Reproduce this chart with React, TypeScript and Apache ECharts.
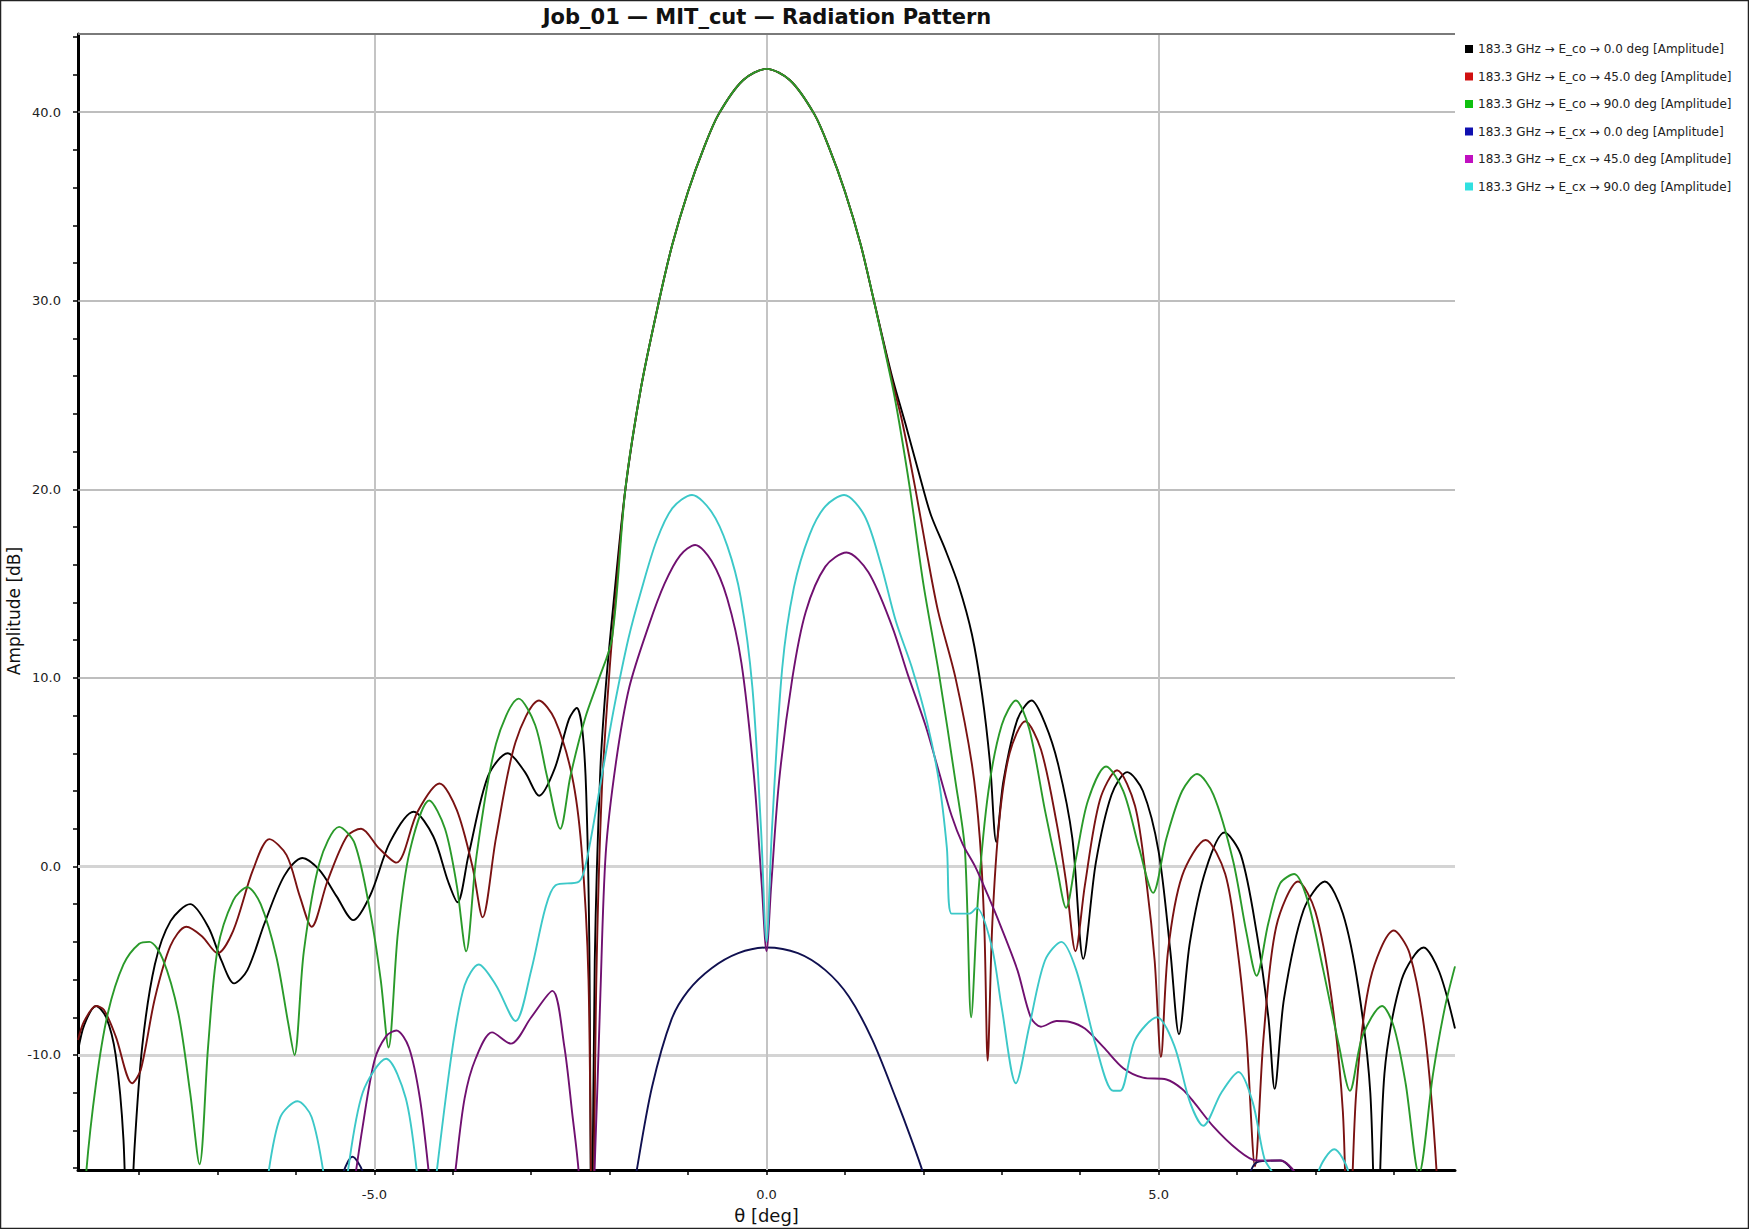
import React, { useEffect, useRef } from "react";
import * as echarts from "echarts";

// ---- axis ticks / labels ----
const xTickValues = [-8, -7, -6, -5, -4, -3, -2, -1, 0, 1, 2, 3, 4, 5, 6, 7, 8];
const xLabelValues = [-5, 0, 5];
const yTickValues = [-16, -14, -12, -10, -8, -6, -4, -2, 0, 2, 4, 6, 8, 10, 12, 14, 16, 18, 20, 22, 24, 26, 28, 30, 32, 34, 36, 38, 40, 42, 44];
const yLabelValues = [-10, 0, 10, 20, 30, 40];
const xGridValues = [-5, 0, 5];
const yGridDark = [10, 20, 30, 40];
const yGridLight = [-10, 0];

const seriesNames = [
  "183.3 GHz → E_co → 0.0 deg [Amplitude]",
  "183.3 GHz → E_co → 45.0 deg [Amplitude]",
  "183.3 GHz → E_co → 90.0 deg [Amplitude]",
  "183.3 GHz → E_cx → 0.0 deg [Amplitude]",
  "183.3 GHz → E_cx → 45.0 deg [Amplitude]",
  "183.3 GHz → E_cx → 90.0 deg [Amplitude]",
];

// ---- data: [theta deg, amplitude dB] ----
const mainLobe = [
  [-1.6, 25.4], [-1.37, 30], [-1.2, 33.0], [-1.0, 35.8], [-0.8, 38.1], [-0.61, 39.9], [-0.3, 41.7],
  [0, 42.3], [0.3, 41.7], [0.61, 39.9], [0.8, 38.1], [1.0, 35.8], [1.2, 33.0], [1.37, 30],
];

const coPol0Left = [
  [-8.78, -9.8], [-8.7, -8.4], [-8.55, -7.4], [-8.42, -8.0], [-8.3, -10.0], [-8.2, -14.5], [-8.14, -22],
  [-8.06, -15], [-7.96, -9.5], [-7.8, -5.2], [-7.6, -2.9], [-7.35, -2.0], [-7.12, -3.2], [-6.95, -5.0],
  [-6.79, -6.2], [-6.62, -5.5], [-6.4, -3.0], [-6.15, -0.5], [-5.92, 0.45], [-5.7, -0.2], [-5.48, -1.6],
  [-5.27, -2.85], [-5.05, -1.5], [-4.8, 1.3], [-4.5, 2.9], [-4.25, 1.6], [-4.06, -0.8], [-3.94, -1.9],
  [-3.8, 0.6], [-3.55, 4.8], [-3.3, 6.0], [-3.08, 5.0], [-2.9, 3.75], [-2.7, 5.2], [-2.52, 7.8],
  [-2.42, 8.4], [-2.35, 7.3], [-2.3, 4.0], [-2.26, -4], [-2.23, -22], [-2.19, -5], [-2.12, 5],
  [-2.05, 9.5], [-1.95, 14], [-1.8, 20],
];
const coPol0Right = [
  [1.6, 26.0], [1.77, 23.5], [2.0, 20], [2.1, 18.6], [2.28, 16.8], [2.45, 14.9], [2.62, 12.3],
  [2.75, 9.1], [2.85, 5.5], [2.93, 1.3], [3.02, 4.5], [3.2, 7.8], [3.38, 8.8], [3.55, 7.6], [3.72, 5.4],
  [3.9, 1.5], [4.04, -4.9], [4.2, 0.2], [4.4, 3.8], [4.6, 5.0], [4.8, 4.0], [5.0, 0.8], [5.15, -4.5],
  [5.26, -8.9], [5.4, -4], [5.6, -0.2], [5.84, 1.8], [6.05, 0.6], [6.25, -3.5], [6.4, -8.0],
  [6.48, -11.8], [6.6, -7], [6.85, -2.3], [7.12, -0.8], [7.35, -2.5], [7.55, -6.5], [7.7, -12],
  [7.78, -22], [7.88, -11], [8.1, -6], [8.38, -4.3], [8.58, -5.6], [8.78, -8.6],
];

const coPol45Left = [
  [-8.78, -9.2], [-8.7, -8.2], [-8.55, -7.4], [-8.45, -7.6], [-8.3, -9.0], [-8.09, -11.5], [-7.98, -10.8],
  [-7.8, -7.0], [-7.6, -4.2], [-7.4, -3.2], [-7.2, -3.7], [-7.0, -4.6], [-6.8, -3.4], [-6.55, -0.2],
  [-6.34, 1.45], [-6.12, 0.6], [-5.95, -1.6], [-5.8, -3.2], [-5.6, -0.8], [-5.35, 1.6], [-5.17, 2.0],
  [-4.95, 1.0], [-4.72, 0.2], [-4.45, 2.9], [-4.17, 4.4], [-3.95, 3.0], [-3.75, 0.0], [-3.62, -2.7],
  [-3.45, 1.5], [-3.2, 6.6], [-2.9, 8.8], [-2.7, 7.8], [-2.48, 4.8], [-2.36, 1.0], [-2.27, -6],
  [-2.22, -22], [-2.17, -6], [-2.1, 4], [-2.0, 10.5], [-1.93, 14], [-1.8, 20],
];
const coPol45Right = [
  [1.6, 25.8], [1.73, 23.6], [1.9, 20], [2.05, 16.5], [2.19, 13.5], [2.41, 10], [2.62, 5.4],
  [2.72, 1.5], [2.78, -3.5], [2.82, -10.3], [2.88, -3], [2.97, 2.5], [3.1, 6.0], [3.3, 7.7],
  [3.5, 6.2], [3.7, 2.3], [3.82, -0.8], [3.94, -4.5], [4.06, -1.0], [4.25, 3.5], [4.47, 5.1],
  [4.7, 3.2], [4.85, -1.0], [4.95, -5], [5.03, -10.1], [5.12, -4.5], [5.3, -0.5], [5.6, 1.4],
  [5.85, -0.4], [6.0, -4.2], [6.12, -9], [6.23, -15.9], [6.34, -9], [6.5, -3.2], [6.78, -0.8],
  [7.0, -2.4], [7.2, -6.8], [7.35, -13], [7.42, -22], [7.52, -12], [7.7, -6.0], [8.0, -3.4],
  [8.2, -4.6], [8.4, -9], [8.55, -16.5], [8.62, -24],
];

const coPol90Left = [
  [-8.78, -24], [-8.68, -16.5], [-8.55, -11.5], [-8.4, -7.8], [-8.2, -5.2], [-8.0, -4.1], [-7.87, -4.0],
  [-7.7, -4.9], [-7.5, -7.8], [-7.35, -12.0], [-7.23, -15.8], [-7.12, -9.5], [-7.0, -4.4], [-6.8, -1.8],
  [-6.62, -1.1], [-6.45, -2.0], [-6.25, -4.8], [-6.1, -8.3], [-6.02, -10.0], [-5.9, -4.5], [-5.7, 0.2],
  [-5.45, 2.1], [-5.25, 1.2], [-5.05, -2.5], [-4.92, -6.0], [-4.82, -9.6], [-4.7, -3.5], [-4.55, 0.8],
  [-4.3, 3.5], [-4.1, 2.0], [-3.95, -1.0], [-3.83, -4.5], [-3.7, 0.5], [-3.45, 6.5], [-3.16, 8.9],
  [-2.95, 7.5], [-2.8, 4.8], [-2.63, 2.0], [-2.5, 4.8], [-2.31, 7.9], [-2.15, 9.8], [-1.97, 12.1],
  [-1.8, 20],
];
const coPol90Right = [
  [1.6, 25.6], [1.69, 23.6], [1.83, 20], [2.0, 15.0], [2.2, 10.2], [2.41, 4.5], [2.53, 0.9],
  [2.61, -8.0], [2.7, -1.5], [2.83, 4.0], [3.0, 7.5], [3.18, 8.8], [3.35, 7.3], [3.55, 3.0],
  [3.7, 0.0], [3.82, -2.2], [3.95, 0.5], [4.1, 3.5], [4.33, 5.3], [4.55, 4.0], [4.75, 1.0],
  [4.93, -1.4], [5.1, 1.5], [5.3, 4.0], [5.49, 4.9], [5.7, 3.8], [5.95, 0.3], [6.12, -3.5],
  [6.25, -5.8], [6.4, -3.0], [6.55, -0.9], [6.73, -0.4], [6.9, -1.8], [7.1, -5.5], [7.3, -9.5],
  [7.44, -11.9], [7.6, -9.0], [7.85, -7.4], [8.0, -8.5], [8.15, -11.5], [8.32, -16.3], [8.5, -11],
  [8.65, -7.5], [8.78, -5.3],
];

const crossPol0 = [
  [-5.5, -19], [-5.4, -16.3], [-5.28, -15.4], [-5.15, -16.2], [-5.05, -19], [-3.5, "-"],
  [-1.8, -20], [-1.65, -16], [-1.46, -11.7], [-1.21, -8.1], [-1.0, -6.6], [-0.7, -5.4], [-0.36, -4.6],
  [0, -4.3], [0.4, -4.6], [0.75, -5.5], [1.05, -6.9], [1.35, -9.2], [1.65, -12.3], [1.85, -14.5],
  [2.0, -16.3], [2.1, -18], [4, "-"],
  [6.05, -18], [6.25, -15.7], [6.55, -15.6], [6.75, -16.4], [6.85, -18],
];

const crossPol45 = [
  [-5.28, -17.5], [-5.15, -13.8], [-5.0, -10.3], [-4.85, -9.0], [-4.72, -8.7], [-4.56, -9.6],
  [-4.42, -12.3], [-4.3, -16.5], [-4.22, -20], [-4.15, "-"],
  [-4.06, -20], [-3.96, -15.9], [-3.85, -12.3], [-3.71, -10.2], [-3.5, -8.8], [-3.26, -9.4],
  [-3.0, -8.0], [-2.73, -6.6], [-2.58, -9.5], [-2.48, -13], [-2.39, -16.5], [-2.3, -26], [-2.2, -17],
  [-2.12, -7], [-2.05, 0.7], [-1.92, 5.5], [-1.75, 9.5], [-1.5, 12.8], [-1.3, 15.0], [-1.1, 16.5],
  [-0.91, 17.05], [-0.7, 16.2], [-0.5, 14.2], [-0.32, 10.8], [-0.16, 4.8], [-0.06, -1.0], [0, -4.5],
  [0.06, -1.0], [0.16, 4.5], [0.33, 10], [0.5, 13.5], [0.75, 15.9], [1.02, 16.65], [1.3, 15.6],
  [1.6, 12.75], [1.8, 10.2], [2.03, 7.45], [2.2, 5.0], [2.36, 2.7], [2.5, 1.2], [2.66, 0.0],
  [2.82, -1.5], [2.98, -3.1], [3.2, -5.5], [3.37, -8.0], [3.5, -8.5], [3.7, -8.2], [3.87, -8.25],
  [4.06, -8.6], [4.3, -9.6], [4.55, -10.7], [4.8, -11.2], [5.1, -11.3], [5.3, -11.8], [5.45, -12.5],
  [5.7, -13.8], [6.0, -15.0], [6.25, -15.6], [6.55, -15.6], [6.75, -16.3], [6.9, -18],
];

const crossPol90 = [
  [-6.45, -20], [-6.36, -16.5], [-6.2, -13.3], [-5.98, -12.45], [-5.8, -13.3], [-5.64, -16.5],
  [-5.55, -20], [-5.5, "-"],
  [-5.45, -20], [-5.35, -16.5], [-5.15, -12.0], [-4.85, -10.2], [-4.6, -12.3], [-4.45, -16.5],
  [-4.37, -20], [-4.33, "-"],
  [-4.3, -20], [-4.2, -16], [-4.0, -9.5], [-3.85, -6.3], [-3.67, -5.2], [-3.45, -6.3], [-3.2, -8.2],
  [-3.0, -5.5], [-2.82, -2.2], [-2.69, -1.0], [-2.39, -0.8], [-2.29, 0.4], [-2.1, 4.8], [-1.94, 8.5],
  [-1.76, 12.1], [-1.6, 14.6], [-1.4, 17.3], [-1.2, 19.0], [-0.95, 19.7], [-0.7, 18.8],
  [-0.5, 17.0], [-0.33, 14.3], [-0.18, 9.5], [-0.07, 2.0], [0, -4.0], [0.07, 2.0], [0.2, 10.5],
  [0.35, 14.8], [0.55, 17.6], [0.75, 19.1], [0.99, 19.7], [1.25, 18.6], [1.46, 16.0], [1.65, 13.0],
  [1.85, 10.6], [2.05, 7.6], [2.2, 4.5], [2.3, 1.0], [2.36, -2.5], [2.59, -2.5], [2.68, -2.2],
  [2.87, -4.2], [3.0, -7.5], [3.18, -11.5], [3.35, -8.5], [3.55, -5.0], [3.76, -4.0], [3.95, -5.5],
  [4.2, -9.5], [4.42, -11.9], [4.51, -11.9], [4.7, -9.2], [4.98, -8.0], [5.2, -9.5], [5.4, -12.5],
  [5.57, -13.75], [5.8, -12.0], [6.02, -10.9], [6.2, -12.5], [6.35, -15.5], [6.48, -16.5], [6.6, -20],
  [6.8, "-"],
  [6.95, -20], [7.04, -16.2], [7.24, -15.0], [7.42, -16.2], [7.5, -20],
];

const seriesData = [
  [...coPol0Left, ...mainLobe, ...coPol0Right],
  [...coPol45Left, ...mainLobe, ...coPol45Right],
  [...coPol90Left, ...mainLobe, ...coPol90Right],
  crossPol0,
  crossPol45,
  crossPol90,
];

const legendColors = ["#000000", "#d01010", "#10c010", "#1010b0", "#c010c0", "#30e0e0"];
const lineColors = ["#000000", "#7a1212", "#2a9a2a", "#101050", "#701070", "#3cc8c8"];

const X_MIN = -8.78;
const X_MAX = 8.78;
const Y_MIN = -16.1;
const Y_MAX = 44.15;
const FONT = "DejaVu Sans";

export default function App() {
  const ref = useRef<HTMLDivElement>(null);

  useEffect(() => {
    document.body.style.margin = "0";
    const chart = echarts.init(ref.current as HTMLDivElement, null, { renderer: "svg" });

    const gridMarks: any[] = [
      ...yGridDark.map((v) => ({ yAxis: v, lineStyle: { color: "#a8a8a8", width: 1.5, type: "solid" } })),
      ...yGridLight.map((v) => ({ yAxis: v, lineStyle: { color: "#d4d4d4", width: 3, type: "solid" } })),
      ...xGridValues.map((v) => ({ xAxis: v, lineStyle: { color: "#c4c4c4", width: 2, type: "solid" } })),
      { yAxis: Y_MAX, lineStyle: { color: "#7a7a7a", width: 2, type: "solid" } },
    ];

    const dataSeries = seriesData.map((d, i) => ({
      name: seriesNames[i],
      type: "line",
      data: d,
      smooth: 0.3,
      showSymbol: false,
      symbol: "none",
      clip: true,
      connectNulls: false,
      color: legendColors[i],
      itemStyle: { color: legendColors[i] },
      lineStyle: { color: lineColors[i], width: 1.9 },
      z: 3,
    }));

    chart.setOption({
      animation: false,
      backgroundColor: "#ffffff",
      graphic: [
        {
          type: "rect",
          shape: { x: 0.5, y: 0.5, width: 1748, height: 1228 },
          style: { fill: "none", stroke: "#222", lineWidth: 1.5 },
          silent: true,
          z: 100,
        },
        {
          type: "text",
          x: 767,
          y: 17,
          style: {
            text: "Job_01 — MIT_cut — Radiation Pattern",
            fontFamily: FONT,
            fontSize: 21,
            fontWeight: "bold",
            fill: "#111",
            align: "center",
            verticalAlign: "middle",
          },
        },
        {
          type: "text",
          x: 14,
          y: 611,
          rotation: Math.PI / 2,
          style: {
            text: "Amplitude [dB]",
            fontFamily: FONT,
            fontSize: 17,
            fill: "#111",
            align: "center",
            verticalAlign: "middle",
          },
        },
      ],
      legend: {
        data: seriesNames,
        orient: "vertical",
        left: 1460,
        top: 37,
        icon: "rect",
        itemWidth: 8,
        itemHeight: 8,
        itemGap: 13.5,
        itemStyle: { borderWidth: 0 },
        textStyle: { fontFamily: FONT, fontSize: 12, color: "#222", lineHeight: 14 },
        selectedMode: false,
      },
      grid: { left: 78, right: 294, top: 34, bottom: 59, containLabel: false },
      xAxis: {
        type: "value",
        min: X_MIN,
        max: X_MAX,
        name: "θ [deg]",
        nameLocation: "middle",
        nameGap: 36,
        nameTextStyle: { fontFamily: FONT, fontSize: 18, color: "#111" },
        axisLine: { onZero: false, lineStyle: { color: "#000", width: 3 } },
        axisTick: { show: true, customValues: xTickValues, length: 5, lineStyle: { color: "#000", width: 1.5 } },
        axisLabel: {
          customValues: xLabelValues,
          formatter: (v: number) => v.toFixed(1),
          fontFamily: FONT,
          fontSize: 13,
          color: "#222",
          margin: 18,
        },
        splitLine: { show: false },
      },
      yAxis: {
        type: "value",
        min: Y_MIN,
        max: Y_MAX,
        axisLine: { onZero: false, lineStyle: { color: "#000", width: 3 } },
        axisTick: { show: true, customValues: yTickValues, length: 5, lineStyle: { color: "#000", width: 1.5 } },
        axisLabel: {
          customValues: yLabelValues,
          formatter: (v: number) => v.toFixed(1),
          fontFamily: FONT,
          fontSize: 13,
          color: "#222",
          margin: 17,
        },
        splitLine: { show: false },
      },
      series: [
        {
          name: "__grid",
          type: "line",
          data: [],
          z: 1,
          silent: true,
          symbol: "none",
          markLine: {
            z: 1,
            silent: true,
            symbol: ["none", "none"],
            label: { show: false },
            emphasis: { disabled: true },
            data: gridMarks,
          },
        },
        ...dataSeries,
      ],
    });

    return () => chart.dispose();
  }, []);

  return <div ref={ref} style={{ width: 1749, height: 1229, background: "#fff" }} />;
}
